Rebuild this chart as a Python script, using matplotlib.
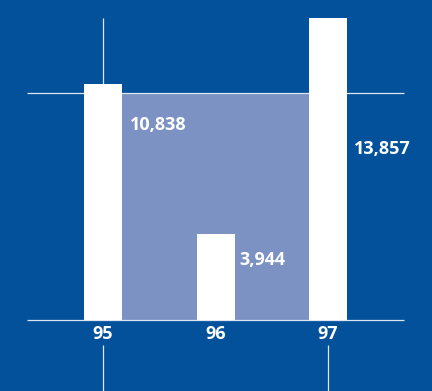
import matplotlib.pyplot as plt

years = ['95', '96', '97']
values = [10838, 3944, 13857]
value_labels = ['10,838', '3,944', '13,857']
reference = 10400  # level of the upper guide line / shaded block

bg = '#03519b'
shade = '#7b92c3'
bar_w = 0.338

fig = plt.figure(figsize=(4.32, 3.91), dpi=100, facecolor=bg)
ax = fig.add_axes([0, 0, 1, 1])
ax.set_facecolor(bg)
ax.set_xlim(-0.916, 2.924)
ax.set_ylim(-3255, 14672)
ax.axis('off')

x = list(range(len(years)))

# shaded block between first and last bar
ax.bar(1, reference, width=(x[-1] - x[0]) - bar_w, color=shade, zorder=1)

# guide lines
for yv in [0, reference]:
    ax.hlines(yv, -0.676, 2.676, color='#dfe6f2', lw=0.9, zorder=2)
ax.vlines(x[0], values[0], max(values), color='#dfe6f2', lw=0.9, zorder=2)
for xi in [x[0], x[-1]]:
    ax.vlines(xi, -1146, -3255, color='#dfe6f2', lw=0.9, zorder=2)

ax.bar(x, values, width=bar_w, color='white', zorder=3)

font = dict(family=['Open Sans', 'DejaVu Sans'], weight='bold', color='white', fontsize=13)
offsets = [(8, -41), (5, -26), (7, -131)]
for xi, v, lab, off in zip(x, values, value_labels, offsets):
    ax.annotate(lab, (xi + bar_w / 2, v), xytext=off, textcoords='offset pixels',
                ha='left', va='center', **font)

for xi, yr in zip(x, years):
    ax.annotate(yr, (xi, 0), xytext=(0, -14), textcoords='offset pixels',
                ha='center', va='center', **font)

fig.savefig('out.png', dpi=100, facecolor=bg)
